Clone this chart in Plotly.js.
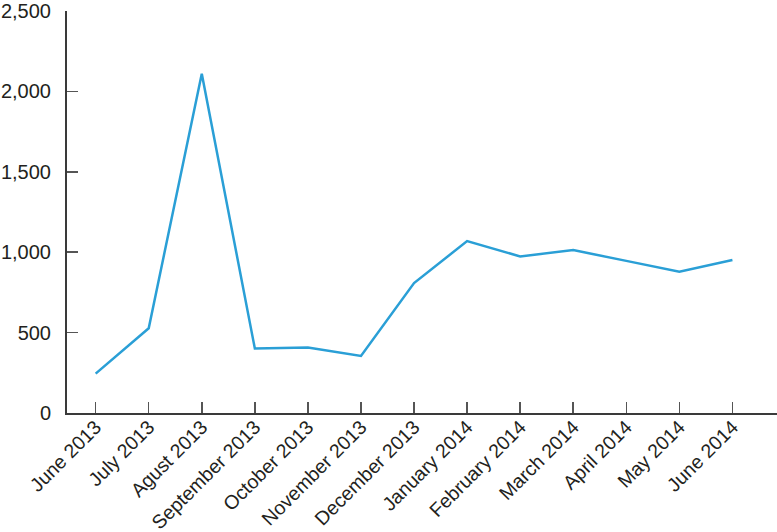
<!DOCTYPE html>
<html>
<head>
<meta charset="utf-8">
<script src="https://cdn.plot.ly/plotly-3.0.1.min.js"></script>
<style>html,body{margin:0;padding:0;background:#fff;}#chart{width:777px;height:532px;}</style>
</head>
<body>
<div id="chart"></div>
<script>
const months = ["June 2013","July 2013","Agust 2013","September 2013","October 2013","November 2013","December 2013","January 2014","February 2014","March 2014","April 2014","May 2014","June 2014"];
const counts = [245, 527, 2110, 401, 407, 355, 808, 1069, 974, 1013, 946, 878, 951];
const yTicks = [0, 500, 1000, 1500, 2000, 2500];
const yTickLabels = ["0", "500", "1,000", "1,500", "2,000", "2,500"];

const trace = {
  type: "scatter",
  mode: "lines",
  x: months,
  y: counts,
  line: {color: "#2a9fd6", width: 2.5},
  hoverinfo: "x+y"
};

const layout = {
  width: 777,
  height: 532,
  margin: {l: 67, r: 0, t: 11, b: 119, pad: 0},
  paper_bgcolor: "#fff",
  plot_bgcolor: "#fff",
  showlegend: false,
  font: {family: "Liberation Sans, Arial, sans-serif", size: 20, color: "#231f20"},
  xaxis: {
    type: "category",
    range: [-0.54, 12.84],
    showgrid: false,
    zeroline: false,
    showline: true,
    linecolor: "#3a3a3a",
    linewidth: 2,
    ticks: "inside",
    ticklen: 11,
    tickwidth: 1.5,
    tickcolor: "#555",
    tickangle: -45,
    ticklabelstandoff: -7,
    tickfont: {size: 19.5}
  },
  yaxis: {
    range: [0, 2500],
    tickvals: yTicks,
    ticktext: yTickLabels,
    showgrid: false,
    zeroline: false,
    showline: true,
    linecolor: "#3a3a3a",
    linewidth: 2,
    ticks: "inside",
    ticklen: 11,
    tickwidth: 1.5,
    tickcolor: "#555",
    ticklabelstandoff: 10,
    tickfont: {size: 20}
  }
};

Plotly.newPlot("chart", [trace], layout, {displayModeBar: false, staticPlot: true});
</script>
</body>
</html>
